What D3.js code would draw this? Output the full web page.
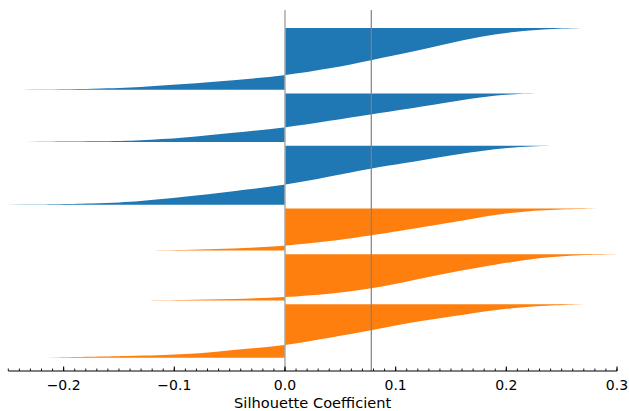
<!DOCTYPE html>
<html>
<head>
<meta charset="utf-8">
<script src="https://cdn.jsdelivr.net/npm/d3@7"></script>
<style>
  html, body { margin: 0; padding: 0; background: #fff; }
  svg { display: block; }
  text { font-family: "DejaVu Sans", sans-serif; fill: #000; }
</style>
</head>
<body>
<svg id="chart" width="629" height="411"></svg>
<script>
// Sorted silhouette values per cluster, as [rank share within cluster, value] knots
const cluster1 = [[0, 0.279], [0.01, 0.242], [0.06, 0.206], [0.14, 0.176], [0.26, 0.146], [0.39, 0.114], [0.52, 0.078], [0.66, 0.041], [0.77, 0], [0.85, -0.047], [0.91, -0.092], [0.96, -0.131], [0.985, -0.167], [1, -0.239]];
const cluster2 = [[0, 0.236], [0.01, 0.203], [0.08, 0.176], [0.21, 0.14], [0.32, 0.11], [0.43, 0.078], [0.56, 0.041], [0.71, 0], [0.81, -0.047], [0.92, -0.092], [0.97, -0.131], [0.99, -0.165], [1, -0.233]];
const cluster3 = [[0, 0.252], [0.01, 0.212], [0.09, 0.176], [0.19, 0.14], [0.29, 0.11], [0.38, 0.078], [0.52, 0.041], [0.67, 0], [0.77, -0.047], [0.87, -0.092], [0.94, -0.131], [0.98, -0.167], [1, -0.252]];
const cluster4 = [[0, 0.282], [0.02, 0.245], [0.08, 0.206], [0.24, 0.170], [0.40, 0.134], [0.64, 0.078], [0.78, 0.041], [0.89, 0], [0.96, -0.047], [0.99, -0.092], [1, -0.137]];
const cluster5 = [[0, 0.301], [0.01, 0.267], [0.07, 0.230], [0.22, 0.191], [0.38, 0.152], [0.56, 0.116], [0.75, 0.078], [0.86, 0.041], [0.93, 0], [0.97, -0.047], [0.99, -0.092], [1, -0.137]];
const cluster6 = [[0, 0.270], [0.025, 0.236], [0.075, 0.200], [0.19, 0.164], [0.31, 0.122], [0.49, 0.078], [0.625, 0.041], [0.77, 0], [0.83, -0.032], [0.89, -0.062], [0.94, -0.092], [0.97, -0.137], [1, -0.218]];

const clusterProfiles = [cluster1, cluster2, cluster3, cluster4, cluster5, cluster6];
const clusterSizes = [162, 127, 155, 110, 121, 140];     // samples per cluster, top to bottom
const clusterColors = ["#1f77b4", "#1f77b4", "#1f77b4", "#ff7f0e", "#ff7f0e", "#ff7f0e"];
const meanSilhouette = 0.078;
const xDomain = [-0.25, 0.3];
const xTickValues = [-0.2, -0.1, 0.0, 0.1, 0.2, 0.3];
const xLabel = "Silhouette Coefficient";

// Layout
const plot = { left: 8.3, right: 617, top: 10, bottom: 371 };
const gapRows = 10, padTop = 47, padBottom = 35;

const totalRows = padTop + d3.sum(clusterSizes) + gapRows * (clusterSizes.length - 1) + padBottom;

const svg = d3.select("#chart");
const x = d3.scaleLinear().domain(xDomain).range([plot.left, plot.right]);
const y = d3.scaleLinear().domain([0, totalRows]).range([plot.top, plot.bottom]);

// Cluster silhouettes
let start = padTop;
clusterProfiles.forEach((profile, i) => {
  const s0 = start, n = clusterSizes[i];
  const area = d3.area()
    .curve(d3.curveBasis)
    .y(d => y(s0 + d[0] * n))
    .x0(x(0))
    .x1(d => x(d[1]));
  svg.append("path")
    .attr("d", area(profile))
    .attr("fill", clusterColors[i])
    .attr("stroke", "none");
  start += n + gapRows;
});

// Reference lines: zero and mean silhouette
svg.append("line")
  .attr("x1", x(0)).attr("x2", x(0))
  .attr("y1", plot.top).attr("y2", plot.bottom)
  .attr("stroke", "#a9a9a9").attr("stroke-width", 1.5);
svg.append("line")
  .attr("x1", x(meanSilhouette)).attr("x2", x(meanSilhouette))
  .attr("y1", plot.top).attr("y2", plot.bottom)
  .attr("stroke", "#808080").attr("stroke-width", 1.2);

// Bottom axis with inward ticks
const fmt = v => d3.format(".1f")(v).replace("-", "\u2212");
const axisG = svg.append("g").attr("transform", `translate(0,${plot.bottom})`);
axisG.append("line")
  .attr("x1", x(xDomain[0])).attr("x2", x(xDomain[1]))
  .attr("stroke", "#000").attr("stroke-width", 1);

const minorTicks = d3.range(-25, 31).map(k => k / 100);
axisG.selectAll("line.minor")
  .data(minorTicks)
  .join("line")
  .attr("class", "minor")
  .attr("x1", d => x(d)).attr("x2", d => x(d))
  .attr("y1", 0).attr("y2", -2.5)
  .attr("stroke", "#000").attr("stroke-width", 0.9);

axisG.selectAll("line.major")
  .data(xTickValues)
  .join("line")
  .attr("class", "major")
  .attr("x1", d => x(d)).attr("x2", d => x(d))
  .attr("y1", 0).attr("y2", -4.5)
  .attr("stroke", "#000").attr("stroke-width", 1.1);

axisG.selectAll("text.tick")
  .data(xTickValues)
  .join("text")
  .attr("class", "tick")
  .attr("x", d => x(d))
  .attr("y", 18.8)
  .attr("text-anchor", "middle")
  .attr("font-size", "14px")
  .text(fmt);

svg.append("text")
  .attr("x", (plot.left + plot.right) / 2)
  .attr("y", 408)
  .attr("text-anchor", "middle")
  .attr("font-size", "14.6px")
  .text(xLabel);
</script>
</body>
</html>
